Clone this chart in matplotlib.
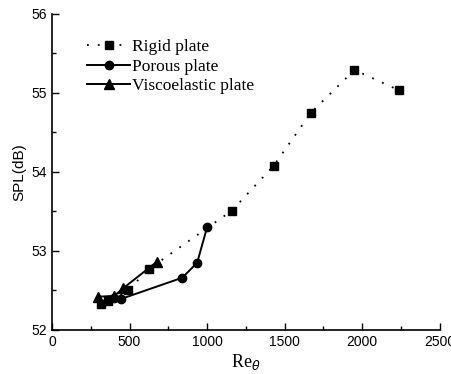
import matplotlib
matplotlib.use("Agg")
import matplotlib.pyplot as plt
from matplotlib.ticker import MultipleLocator

rigid_x = [315, 362, 490, 625, 1160, 1430, 1670, 1950, 2240]
rigid_y = [52.33, 52.36, 52.50, 52.77, 53.51, 54.08, 54.75, 55.29, 55.03]
porous_x = [400, 443, 840, 936, 1000]
porous_y = [52.40, 52.39, 52.66, 52.85, 53.30]
visco_x = [298, 401, 461, 675]
visco_y = [52.42, 52.43, 52.53, 52.86]

fig = plt.figure(figsize=(4.52, 3.74), dpi=100)
ax = fig.add_axes([0.115, 0.118, 0.858, 0.845])

ax.plot(rigid_x, rigid_y, color="black", linestyle=(0, (1, 5)), lw=1.3,
        marker="s", markersize=6, label="Rigid plate")
ax.plot(porous_x, porous_y, color="black", linestyle="-", lw=1.4,
        marker="o", markersize=6, label="Porous plate")
ax.plot(visco_x, visco_y, color="black", linestyle="-", lw=1.4,
        marker="^", markersize=7, label="Viscoelastic plate")

ax.set_xlim(0, 2500)
ax.set_ylim(52, 56)
ax.xaxis.set_major_locator(MultipleLocator(500))
ax.xaxis.set_minor_locator(MultipleLocator(250))
ax.yaxis.set_major_locator(MultipleLocator(1))
ax.yaxis.set_minor_locator(MultipleLocator(0.5))
ax.tick_params(which="both", direction="in", width=1)
ax.tick_params(which="major", length=5, labelsize=10)
ax.tick_params(which="minor", length=3)
for lab in ax.get_xticklabels() + ax.get_yticklabels():
    lab.set_family("Liberation Sans")
ax.spines["top"].set_visible(False)
ax.spines["right"].set_visible(False)
ax.spines["left"].set_linewidth(1.2)
ax.spines["bottom"].set_linewidth(1.2)

ax.set_xlabel(r"Re$_\theta$", family="Liberation Serif", fontsize=13, labelpad=2)
ax.set_ylabel("SPL(dB)", family="Liberation Sans", fontsize=11, labelpad=4)

leg = ax.legend(loc="upper left", bbox_to_anchor=(0.05, 0.97), frameon=False,
                prop={"family": "Liberation Serif", "size": 12.5},
                handlelength=2.5, handletextpad=0.1, labelspacing=0.2)

fig.savefig("out.png", dpi=100)
